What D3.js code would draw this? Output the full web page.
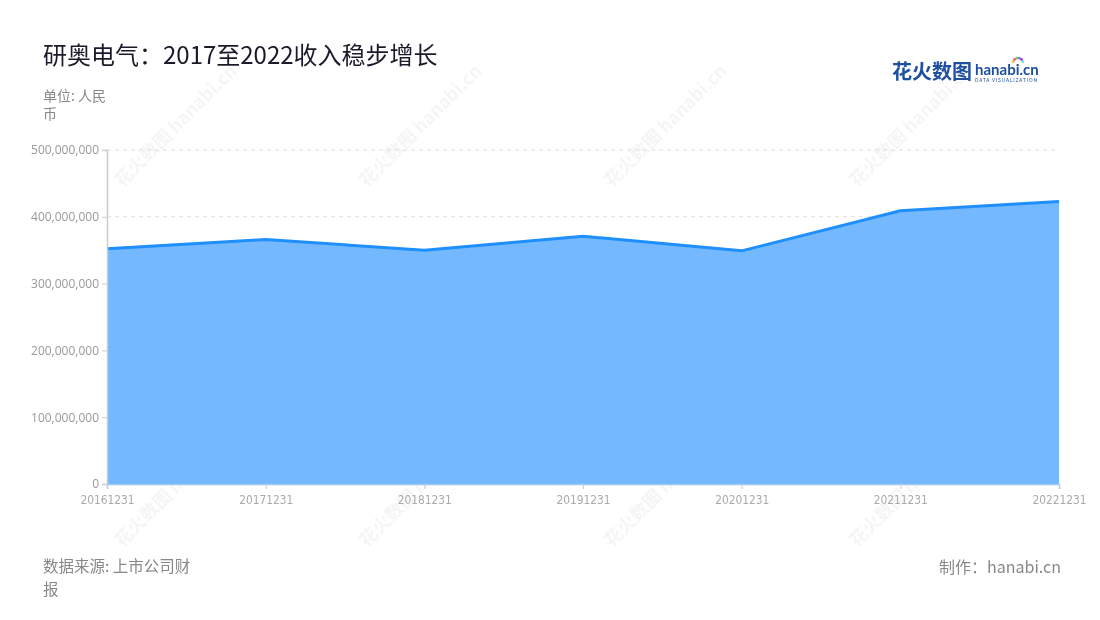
<!DOCTYPE html>
<html><head><meta charset="utf-8">
<script src="https://cdn.jsdelivr.net/npm/d3@7"></script>
<style>body{margin:0;background:#fff;font-family:"Noto Sans CJK SC","Noto Sans",sans-serif}</style>
</head><body><svg id="c" width="1100" height="620"></svg>
<script>
const categories = ["20161231","20171231","20181231","20191231","20201231","20211231","20221231"];
const revenue = [352000000, 366000000, 350000000, 371000000, 349000000, 409000000, 423000000];
const yTicks = [0,100000000,200000000,300000000,400000000,500000000];

const svg = d3.select("#c");
const M = {l:107, r:1059, t:150, b:484};
const x = d3.scalePoint().domain(categories).range([M.l, M.r]);
const y = d3.scaleLinear().domain([0,500000000]).range([M.b, M.t]);

// watermarks
const wm = svg.append("g").attr("opacity",0.04);
[150,395,640,885].forEach(cx=>[150,330,510].forEach(cy=>{
  const g = wm.append("g").attr("transform",`translate(${cx+30},${cy-20}) rotate(-45)`);
  g.append("text").attr("font-size",18).attr("font-weight","bold").attr("fill","#000").attr("text-anchor","middle").text("花火数图 hanabi.cn");
}));

// grid
svg.append("g").selectAll("line").data(yTicks.filter(d=>d>0)).join("line")
  .attr("x1",M.l).attr("x2",M.r).attr("y1",d=>y(d)).attr("y2",d=>y(d))
  .attr("stroke","#ddd").attr("stroke-dasharray","4,4");

// area
const area = d3.area().x((d,i)=>x(categories[i])).y0(y(0)).y1(d=>y(d));
svg.append("path").datum(revenue).attr("d",area).attr("fill","#74b9ff");
const line = d3.line().x((d,i)=>x(categories[i])).y(d=>y(d));
svg.append("path").datum(revenue).attr("d",line).attr("fill","none").attr("stroke","#1e8ffc").attr("stroke-width",3).attr("stroke-linejoin","round");

// y axis
const ya = svg.append("g").attr("transform",`translate(${M.l},0)`)
  .call(d3.axisLeft(y).tickValues(yTicks).tickFormat(d3.format(",")).tickSize(5).tickPadding(3));
ya.select(".domain").attr("stroke","#ccc").attr("stroke-width",1.5);
ya.selectAll(".tick line").attr("stroke","#ccc");
ya.selectAll("text").attr("fill","#999").attr("font-size",12).attr("font-family","'Open Sans','Noto Sans',sans-serif");

// x axis
const xa = svg.append("g").attr("transform",`translate(0,${M.b})`)
  .call(d3.axisBottom(x).tickSize(5).tickPadding(6));
xa.select(".domain").attr("stroke","#9cc7f0").attr("stroke-width",1.5);
xa.selectAll(".tick line").attr("stroke","#ccc");
xa.selectAll("text").attr("fill","#aaa").attr("font-size",12).attr("font-family","'Liberation Sans Narrow','DejaVu Sans Condensed',sans-serif")
  .attr("textLength",54).attr("lengthAdjust","spacingAndGlyphs");

// titles
svg.append("text").attr("x",43).attr("y",64).attr("font-size",24).attr("fill","#1a1a2a").text("研奥电气：2017至2022收入稳步增长");
svg.append("text").attr("x",43).attr("y",101).attr("font-size",14).attr("fill","#888").text("单位: 人民");
svg.append("text").attr("x",43).attr("y",119).attr("font-size",14).attr("fill","#888").text("币");
svg.append("text").attr("x",43).attr("y",572).attr("font-size",15.5).attr("fill","#888").text("数据来源: 上市公司财");
svg.append("text").attr("x",43).attr("y",595).attr("font-size",15.5).attr("fill","#888").text("报");
svg.append("text").attr("x",1061).attr("y",573).attr("font-size",16).attr("fill","#888").attr("text-anchor","end").text("制作：hanabi.cn");

// logo
const lg = svg.append("g");
lg.append("text").attr("x",892).attr("y",79).attr("font-size",20).attr("font-weight","bold").attr("fill","#1f4fa0").text("花火数图");
lg.append("text").attr("x",975).attr("y",75).attr("font-size",15).attr("font-weight","bold").attr("fill","#1f4fa0").attr("font-family","Lato,sans-serif").text("hanabi.cn");
lg.append("text").attr("x",975).attr("y",82).attr("font-size",5).attr("fill","#1f4fa0").attr("textLength",62).attr("lengthAdjust","spacing").text("DATA VISUALIZATION");
const dotColors = ["#f5a623","#e94e77","#7ed321","#4a90e2","#bd10e0","#50e3c2"];
dotColors.forEach((c,i)=>{
  const a = -Math.PI*0.9 + i*Math.PI*0.16;
  lg.append("circle").attr("cx",1018+Math.cos(a)*5).attr("cy",63+Math.sin(a)*5).attr("r",1.3).attr("fill",c);
});
</script></body></html>
